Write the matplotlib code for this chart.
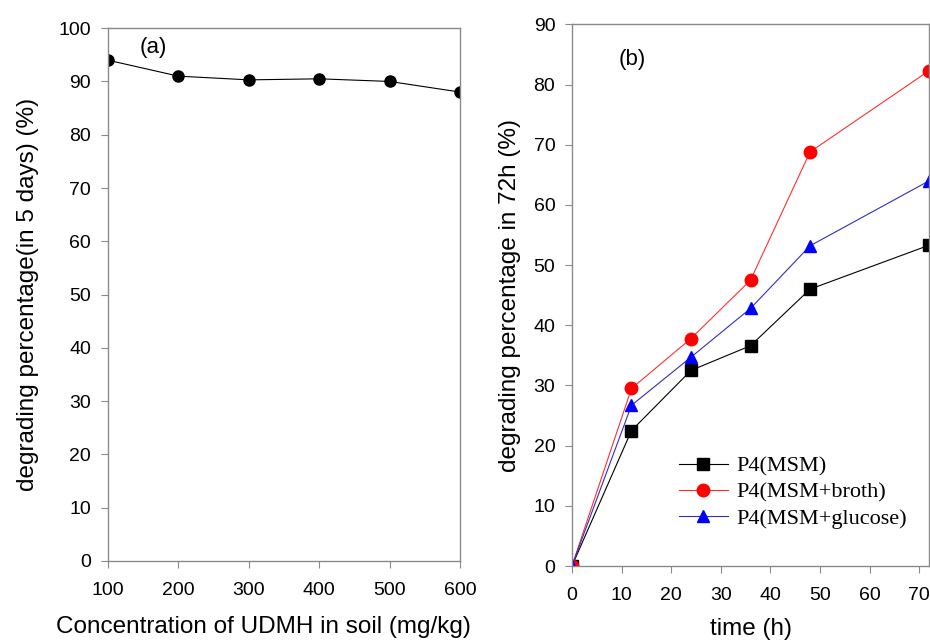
import matplotlib
matplotlib.use("Agg")
import matplotlib.pyplot as plt

# panel (a) data
conc = [100, 200, 300, 400, 500, 600]
pct_5days = [94.0, 91.0, 90.3, 90.5, 90.0, 88.0]

# panel (b) data
time_h = [0, 12, 24, 36, 48, 72]
msm = [0, 22.5, 32.5, 36.6, 46.0, 53.3]
broth = [0, 29.5, 37.8, 47.5, 68.8, 82.3]
glucose = [0, 26.7, 34.7, 42.8, 53.2, 64.0]

plt.rcParams["font.family"] = ["Liberation Sans", "DejaVu Sans"]
spine_col = "#8a8a8a"

fig = plt.figure(figsize=(9.3, 6.41), dpi=100)
ax1 = fig.add_axes([0.116, 0.125, 0.379, 0.831])
ax2 = fig.add_axes([0.615, 0.117, 0.384, 0.845])


def style(ax):
    for s in ax.spines.values():
        s.set_color(spine_col)
        s.set_linewidth(1.0)
    ax.tick_params(direction="out", length=5, color=spine_col, labelsize=14, pad=7)
    ax.tick_params(axis="x", pad=10)


# (a)
ax1.plot(conc, pct_5days, color="black", lw=0.8, marker="o", ms=8)
ax1.set_xlim(100, 600)
ax1.set_ylim(0, 100)
ax1.set_xticks(range(100, 601, 100))
ax1.set_yticks(range(0, 101, 10))
ax1.set_xlabel("Concentration of UDMH in soil (mg/kg)", fontsize=17.5)
ax1.xaxis.set_label_coords(0.44, -0.104)
ax1.set_ylabel("degrading percentage(in 5 days) (%)", fontsize=17.5, labelpad=14)
ax1.text(0.09, 0.983, "(a)", transform=ax1.transAxes, fontsize=16, va="top")
style(ax1)

# (b)
ax2.plot(time_h, msm, color="black", lw=0.8, marker="s", ms=8, label="P4(MSM)")
ax2.plot(time_h, broth, color="#ff3030", lw=0.8, marker="o", ms=9,
         mfc="red", mec="red", label="P4(MSM+broth)")
ax2.plot(time_h, glucose, color="#3030c0", lw=0.8, marker="^", ms=9,
         mfc="blue", mec="blue", label="P4(MSM+glucose)")
ax2.set_xlim(0, 72)
ax2.set_ylim(0, 90)
ax2.set_xticks(range(0, 71, 10))
ax2.set_yticks(range(0, 91, 10))
ax2.set_xlabel("time (h)", fontsize=17.5, labelpad=10)
ax2.set_ylabel("degrading percentage in 72h (%)", fontsize=17.5, labelpad=9)
ax2.text(0.13, 0.955, "(b)", transform=ax2.transAxes, fontsize=16, va="top")
style(ax2)
ax2.legend(loc="lower left", bbox_to_anchor=(0.243, 0.032), frameon=False,
           prop={"family": "Liberation Serif", "size": 16},
           handlelength=2.2, handletextpad=0.4, labelspacing=0.25)

fig.savefig("out.png", dpi=100)
